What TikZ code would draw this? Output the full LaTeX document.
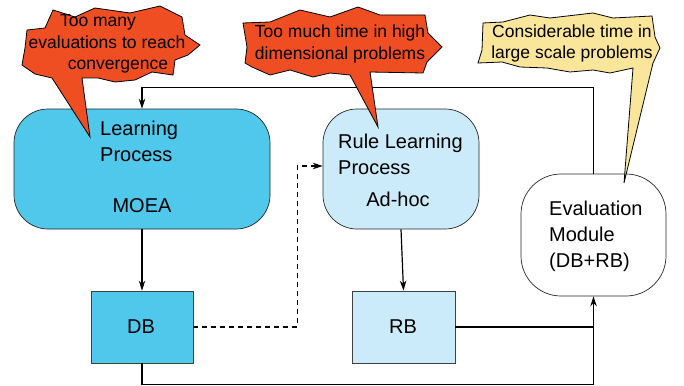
\documentclass[tikz,border=0pt]{standalone}
\usepackage{fontspec}
\setmainfont{Liberation Sans}
\usetikzlibrary{arrows.meta,calc}
\definecolor{cyanbox}{HTML}{4FC8EB}
\definecolor{lightbox}{HTML}{CCEBFA}
\definecolor{redcall}{HTML}{EF4E23}
\definecolor{yellowcall}{HTML}{FAE69A}
\tikzset{
  roundbox/.style={draw=black!85, line width=0.7pt, rounded corners=34pt, inner sep=0pt},
  sqbox/.style={draw=black!75, line width=0.8pt, inner sep=0pt},
  txt/.style={inner sep=0pt, font=\fontsize{20}{26}\selectfont},
  calltxt/.style={inner sep=0pt, align=center, font=\fontsize{17.5}{21.5}\selectfont},
  conn/.style={line width=1.2pt, draw=black},
  arr/.style={conn, -{Stealth[length=10pt,width=6.5pt]}},
  callout/.style={draw=black, line width=0.8pt, line join=miter},
}
\begin{document}
\begin{tikzpicture}[x=1pt,y=-1pt]
\useasboundingbox (0,0) rectangle (684,385);
% boxes
\node[roundbox, fill=cyanbox, minimum width=256pt, minimum height=120pt] (learn) at (142,169) {};
\node[roundbox, fill=lightbox, minimum width=156pt, minimum height=120pt] (rule) at (401,169) {};
\node[roundbox, fill=white, rounded corners=40pt, minimum width=145pt, minimum height=122pt] (eval) at (593.5,235) {};
\node[sqbox, fill=cyanbox, minimum width=102pt, minimum height=72pt] (db) at (142,327) {};
\node[sqbox, fill=lightbox, minimum width=103pt, minimum height=72pt] (rb) at (403.5,327) {};
% texts
\node[txt, anchor=west, align=left] (learnt) at (100,141.5) {Learning\\Process};
\node[txt] (moea) at (142,206) {MOEA};
\node[txt, anchor=west, align=left] (rulet) at (338,154.5) {Rule Learning\\Process};
\node[txt] (adhoc) at (398,199) {Ad-hoc};
\node[txt, anchor=west, align=left] (evalt) at (549,236) {Evaluation\\Module\\(DB+RB)};
\node[txt] (dbt) at (141,327) {DB};
\node[txt] (rbt) at (403,327) {RB};
% connectors
\draw[arr] (eval.north) -- ++(0,-86) -| (learn.north);
\draw[arr] (learn.south) -- (db.north);
\draw[arr] (rule.south) -- (rb.north);
\draw[arr, dash pattern=on 5pt off 4pt] (db.east) -- ++(104,0) |- ([yshift=3pt]rule.west);
\draw[conn] (rb.east) -- (rb.east -| eval.south);
\draw[arr] (db.south) -- ++(0,21) -| (eval.south);
% callouts
\draw[callout, fill=redcall] (53,10) -- (75,17) -- (95,8) -- (130,13) -- (160,6) -- (182,17) -- (185,35) -- (200,45) -- (188,55) -- (175,60) -- (173,75) -- (152,72) -- (135,80) -- (115,82) -- (98,78) -- (82,78) -- (90,137) -- (52,78) -- (35,74) -- (22,65) -- (25,48) -- (27,30) -- (45,28) -- cycle;
\node[calltxt] (c1) at (107,44) {Too many\hspace*{18pt}\\evaluations to reach\\\hspace*{22pt}convergence};
\draw[callout, fill=redcall] (243,23) -- (270,22) -- (300,10) -- (330,17) -- (358,7) -- (380,15) -- (425,15) -- (428,33) -- (442,47) -- (427,62) -- (423,73) -- (370,72) -- (378,127) -- (350,75) -- (330,73) -- (313,77) -- (290,70) -- (270,75) -- (252,67) -- (245,63) -- (247,47) -- cycle;
\node[calltxt] (c2) at (340,44) {Too much time in high\\dimensional problems};
\draw[callout, fill=yellowcall] (483,23) -- (503,22) -- (530,15) -- (550,18) -- (593,13) -- (613,18) -- (652,16) -- (655,37) -- (660,48) -- (653,63) -- (624,183) -- (633,68) -- (610,73) -- (593,70) -- (570,72) -- (547,68) -- (520,67) -- (502,62) -- (478,63) -- (482,50) -- cycle;
\node[calltxt] (c3) at (572,43.5) {Considerable time in\\large scale problems};
\end{tikzpicture}
\end{document}
